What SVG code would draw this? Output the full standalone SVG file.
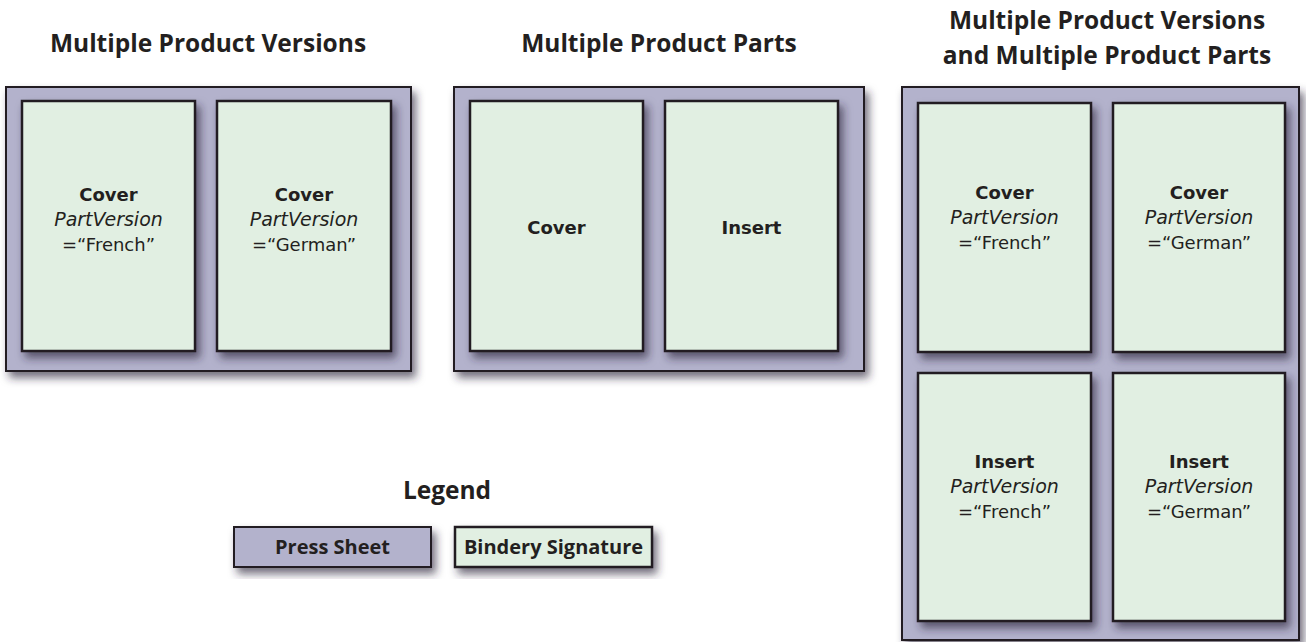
<svg xmlns="http://www.w3.org/2000/svg" width="1306" height="642" viewBox="0 0 1306 642">
<defs>
<filter id="sh" x="-20%" y="-20%" width="150%" height="150%">
<feDropShadow dx="4" dy="6" stdDeviation="4" flood-color="#2a2838" flood-opacity="0.65"/>
</filter>
<style>
.sheet{fill:#b3b2cc;stroke:#231f20;stroke-width:2;filter:url(#sh)}
.sig{fill:#e1efe2;stroke:#231f20;stroke-width:2.5;filter:url(#sh)}
text{font-family:"Open Sans","Liberation Sans",sans-serif;fill:#231f20;text-anchor:middle}
.title{font-size:24.5px;font-weight:700}
.b,.i,.v{font-family:"DejaVu Sans","Liberation Sans",sans-serif}
.b{font-size:18px;font-weight:700}
.i{font-size:19px;font-style:italic}
.v{font-size:18px}
.leg{font-size:20px;font-weight:700}
</style>
</defs>
<rect width="1306" height="642" fill="#ffffff"/>

<g id="titles">
<text class="title" x="208" y="52">Multiple Product Versions</text>
<text class="title" x="659" y="52">Multiple Product Parts</text>
<text class="title" x="1107" y="29">Multiple Product Versions</text>
<text class="title" x="1107" y="64">and Multiple Product Parts</text>
</g>

<g id="sheet-versions">
<rect class="sheet" x="6" y="87" width="405" height="284"/>
<g id="sv-cover-french">
<rect class="sig" x="22" y="101" width="173" height="250"/>
<text class="b" x="108.5" y="201">Cover</text>
<text class="i" x="108.5" y="226">PartVersion</text>
<text class="v" x="108.5" y="251">=“French”</text>
</g>
<g id="sv-cover-german">
<rect class="sig" x="217" y="101" width="174" height="250"/>
<text class="b" x="304" y="201">Cover</text>
<text class="i" x="304" y="226">PartVersion</text>
<text class="v" x="304" y="251">=“German”</text>
</g>
</g>

<g id="sheet-parts">
<rect class="sheet" x="454" y="87" width="410" height="284"/>
<g id="sp-cover">
<rect class="sig" x="470" y="101" width="173" height="250"/>
<text class="b" x="556.5" y="234">Cover</text>
</g>
<g id="sp-insert">
<rect class="sig" x="665" y="101" width="173" height="250"/>
<text class="b" x="751.5" y="234">Insert</text>
</g>
</g>

<g id="sheet-both">
<rect class="sheet" x="902" y="87" width="397" height="553"/>
<g id="sb-cover-french">
<rect class="sig" x="918" y="103" width="173" height="249"/>
<text class="b" x="1004.5" y="199">Cover</text>
<text class="i" x="1004.5" y="224">PartVersion</text>
<text class="v" x="1004.5" y="249">=“French”</text>
</g>
<g id="sb-cover-german">
<rect class="sig" x="1113" y="103" width="172" height="249"/>
<text class="b" x="1199" y="199">Cover</text>
<text class="i" x="1199" y="224">PartVersion</text>
<text class="v" x="1199" y="249">=“German”</text>
</g>
<g id="sb-insert-french">
<rect class="sig" x="918" y="373" width="173" height="248"/>
<text class="b" x="1004.5" y="468">Insert</text>
<text class="i" x="1004.5" y="493">PartVersion</text>
<text class="v" x="1004.5" y="518">=“French”</text>
</g>
<g id="sb-insert-german">
<rect class="sig" x="1113" y="373" width="172" height="248"/>
<text class="b" x="1199" y="468">Insert</text>
<text class="i" x="1199" y="493">PartVersion</text>
<text class="v" x="1199" y="518">=“German”</text>
</g>
</g>

<g id="legend">
<text class="title" x="447" y="499">Legend</text>
<g id="legend-press-sheet">
<rect class="sheet" x="234" y="527" width="197" height="40"/>
<text class="leg" x="332.5" y="554">Press Sheet</text>
</g>
<g id="legend-bindery-signature">
<rect class="sig" x="455" y="527" width="197" height="40"/>
<text class="leg" x="553.5" y="554">Bindery Signature</text>
</g>
</g>
</svg>
